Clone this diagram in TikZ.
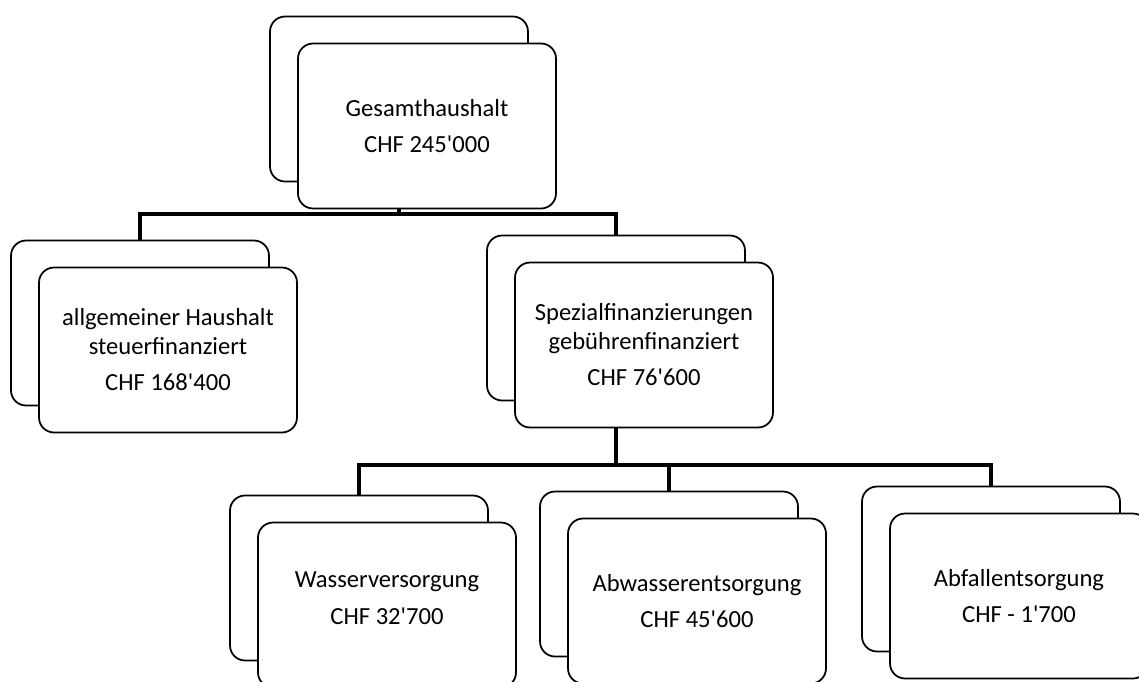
\documentclass[tikz,border=0pt]{standalone}
\usepackage{fontspec}
\setmainfont{Carlito}
\usetikzlibrary{calc}

\newcommand{\ap}{\textquotesingle}

\begin{document}
\begin{tikzpicture}[
  x=0.02cm, y=-0.02cm,
  every node/.style = {align=center, font=\fontsize{14}{16}\selectfont},
  card/.style = {draw, line width=1pt, fill=white, rounded corners=0.3cm,
                 minimum width=5.16cm, minimum height=3.3cm, inner sep=0pt},
  backcard/.style = {card, shift={(-28,-27)}},
  conn/.style = {draw, line width=2.6pt}
]
\useasboundingbox (0,0) rectangle (1139,681);
\clip (0,0) rectangle (1139,681);

% back cards
\node[backcard] (gesb) at (427,126) {};
\node[backcard] (allgb) at (168,350) {};
\node[backcard] (spezb) at (644,345) {};
\node[backcard] (wasb) at (387,605) {};
\node[backcard] (abwb) at (697,601) {};
\node[backcard] (abfb) at (1019,596) {};

% connectors
\coordinate (bus1) at (399,214);
\coordinate (bus2) at (616,465);
\draw[conn] (gesb.south) -- (bus1);
\draw[conn] (allgb.north) |- (bus1) -| (spezb.north);
\draw[conn] (spezb.south) -- (bus2);
\draw[conn] (wasb.north) |- (bus2) -| (abfb.north);
\draw[conn] (abwb.north) -- (abwb.north |- bus2);

% front cards
\node[card] (ges) at (427,126) {Gesamthaushalt\\[5pt] CHF 245\ap000};
\node[card] (allg) at (168,350) {allgemeiner Haushalt\\ steuerfinanziert\\[5pt] CHF 168\ap400};
\node[card] (spez) at (644,345) {Spezialfinanzierungen\\ gebührenfinanziert\\[5pt] CHF 76\ap600};
\node[card] (was) at (387,605) {Wasserversorgung\\[5pt] CHF 32\ap700\\[-8pt]};
\node[card] (abw) at (697,601) {Abwasserentsorgung\\[5pt] CHF 45\ap600};
\node[card] (abf) at (1019,596) {Abfallentsorgung\\[5pt] CHF - 1\ap700};

\end{tikzpicture}
\end{document}
